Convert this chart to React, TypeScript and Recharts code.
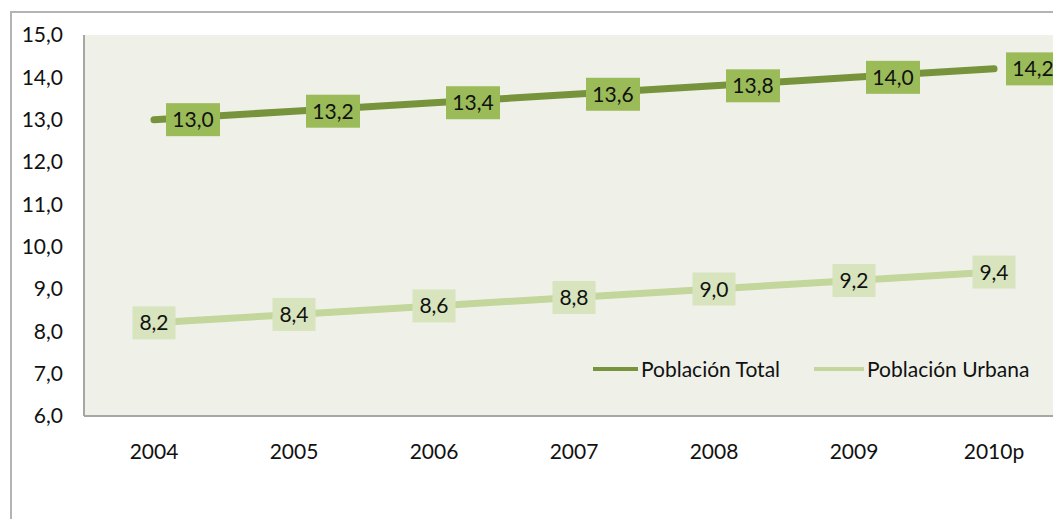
import { LineChart, Line, XAxis, YAxis, CartesianGrid, LabelList, Legend } from "recharts";

const years = ["2004", "2005", "2006", "2007", "2008", "2009", "2010p"];
const totalPop = [13.0, 13.2, 13.4, 13.6, 13.8, 14.0, 14.2];
const urbanPop = [8.2, 8.4, 8.6, 8.8, 9.0, 9.2, 9.4];
const yTicks = [6, 7, 8, 9, 10, 11, 12, 13, 14, 15];

const data = years.map((year, i) => ({ year, total: totalPop[i], urbana: urbanPop[i] }));

const FONT = "Lato, 'Open Sans', sans-serif";
const FS = 21;
const TEXT = "#111";
const TOTAL_LINE = "#77933C";
const TOTAL_BOX = "#9BBB59";
const URBAN_LINE = "#C3D69B";
const URBAN_BOX = "#D7E4BD";

const fmt = (v: number) => v.toFixed(1).replace(".", ",");

// boxed data label, shifted horizontally by dx from the point
const boxLabel = (fill: string, w: number, dx: number) => (props: any) => {
  const { x, y, value } = props;
  const cx = x + dx;
  return (
    <g>
      <rect x={cx - w / 2} y={y - 16.5} width={w} height={33} fill={fill} />
      <text x={cx} y={y} dy="0.36em" textAnchor="middle" fontFamily={FONT} fontSize={FS} fill={TEXT}>
        {fmt(value)}
      </text>
    </g>
  );
};

const legendItems = [
  { name: "Población Total", color: TOTAL_LINE, sample: 45 },
  { name: "Población Urbana", color: URBAN_LINE, sample: 50 },
];

function LegendBox() {
  return (
    <div style={{ display: "flex", alignItems: "center", fontFamily: FONT, fontSize: FS, color: TEXT, whiteSpace: "nowrap" }}>
      {legendItems.map((it, i) => (
        <div key={it.name} style={{ display: "flex", alignItems: "center", marginLeft: i ? 34 : 0 }}>
          <span style={{ display: "inline-block", width: it.sample, height: 4, background: it.color, marginRight: 3 }} />
          <span>{it.name}</span>
        </div>
      ))}
    </div>
  );
}

export default function App() {
  return (
    <div style={{ margin: -8, width: 1061, height: 527, position: "relative", overflow: "hidden", background: "#fff" }}>
      <div
        style={{
          position: "absolute",
          left: 10,
          top: 11,
          width: 1100,
          height: 600,
          border: "2px solid #b4b4b4",
          boxSizing: "border-box",
        }}
      />
      <div style={{ position: "absolute", left: 0, top: 0 }}>
        <LineChart width={1080} height={527} data={data} margin={{ top: 35, right: 16, bottom: 51, left: 0 }}>
          <CartesianGrid fill="#EFF1E9" horizontal={false} vertical={false} />
          <XAxis
            dataKey="year"
            padding={{ left: 70, right: 70 }}
            height={60}
            tickLine={false}
            tickSize={0}
            tickMargin={28}
            axisLine={{ stroke: "#a6a6a6", strokeWidth: 2 }}
            tick={{ fontFamily: FONT, fontSize: FS, fill: TEXT }}
          />
          <YAxis
            width={84}
            domain={[6, 15]}
            ticks={yTicks}
            interval={0}
            tickFormatter={fmt}
            tickLine={false}
            tickSize={0}
            tickMargin={21}
            axisLine={{ stroke: "#a6a6a6", strokeWidth: 2 }}
            tick={{ fontFamily: FONT, fontSize: FS, fill: TEXT }}
          />
          <Legend
            verticalAlign="middle"
            content={() => <LegendBox />}
            wrapperStyle={{ position: "absolute", left: 593, top: 356, width: "auto" }}
          />
          <Line
            type="linear"
            dataKey="total"
            name="Población Total"
            stroke={TOTAL_LINE}
            strokeWidth={7}
            strokeLinecap="round"
            dot={false}
            isAnimationActive={false}
          >
            <LabelList dataKey="total" content={boxLabel(TOTAL_BOX, 54, 39)} />
          </Line>
          <Line
            type="linear"
            dataKey="urbana"
            name="Población Urbana"
            stroke={URBAN_LINE}
            strokeWidth={7}
            strokeLinecap="round"
            dot={false}
            isAnimationActive={false}
          >
            <LabelList dataKey="urbana" content={boxLabel(URBAN_BOX, 43, 0)} />
          </Line>
        </LineChart>
      </div>
    </div>
  );
}
